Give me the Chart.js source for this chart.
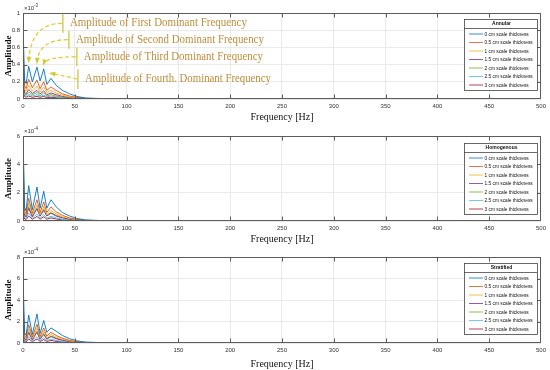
<!DOCTYPE html>
<html>
<head>
<meta charset="utf-8">
<script src="https://cdn.jsdelivr.net/npm/chart.js@4/dist/chart.umd.min.js"></script>
<style>
  html, body { margin: 0; padding: 0; background: #fff; }
  #wrap { position: relative; width: 550px; height: 370px; }
  canvas { position: absolute; left: 0; }
</style>
</head>
<body>
<div id="wrap">
  <canvas id="c1" width="550" height="123" style="top:0px"></canvas>
  <canvas id="c2" width="550" height="122" style="top:123px"></canvas>
  <canvas id="c3" width="550" height="125" style="top:245px"></canvas>
</div>
<script>
// DATA

// frequency points [Hz]
const freq = [0, 1.5, 3, 5.5, 9, 13.5, 16.5, 20, 23, 27, 32, 38, 45, 52, 60, 75, 100, 200, 500];

const seriesLabels = ['0 cm scale thickness', '0.5 cm scale thickness', '1 cm scale thickness',
  '1.5 cm scale thickness', '2 cm scale thickness', '2.5 cm scale thickness', '3 cm scale thickness'];

// amplitude x 10^-3 (annular)
const annularAmp = [
  [0.85, 0.22, 0.18, 0.38, 0.2, 0.37, 0.21, 0.35, 0.17, 0.24, 0.16, 0.1, 0.06, 0.03, 0.012, 0.005, 0.003, 0.002, 0.001],
  [0.62, 0.15, 0.12, 0.23, 0.13, 0.22, 0.12, 0.2, 0.1, 0.14, 0.1, 0.06, 0.035, 0.018, 0.008, 0.004, 0.002, 0.001, 0.001],
  [0.5, 0.11, 0.09, 0.16, 0.09, 0.15, 0.085, 0.14, 0.075, 0.1, 0.07, 0.045, 0.025, 0.012, 0.006, 0.003, 0.002, 0.001, 0.0005],
  [0.38, 0.08, 0.06, 0.11, 0.065, 0.1, 0.06, 0.095, 0.05, 0.07, 0.05, 0.03, 0.018, 0.009, 0.004, 0.002, 0.001, 0.0005, 0.0003],
  [0.3, 0.06, 0.045, 0.08, 0.05, 0.075, 0.04, 0.07, 0.035, 0.05, 0.035, 0.02, 0.012, 0.006, 0.003, 0.002, 0.001, 0.0005, 0.0003],
  [0.22, 0.045, 0.03, 0.055, 0.035, 0.05, 0.03, 0.045, 0.025, 0.035, 0.025, 0.015, 0.008, 0.004, 0.002, 0.001, 0.0005, 0.0003, 0.0002],
  [0.15, 0.03, 0.02, 0.035, 0.02, 0.03, 0.02, 0.03, 0.015, 0.02, 0.015, 0.01, 0.005, 0.003, 0.001, 0.0005, 0.0003, 0.0002, 0.0001]
];

// amplitude x 10^-4 (homogenous)
const homogAmp = [
  [6.0, 1.0, 0.7, 2.5, 0.8, 2.4, 0.9, 2.1, 0.9, 1.5, 1.0, 0.6, 0.35, 0.18, 0.08, 0.03, 0.015, 0.008, 0.004],
  [4.0, 0.7, 0.5, 1.6, 0.55, 1.5, 0.6, 1.35, 0.6, 1.0, 0.65, 0.4, 0.22, 0.11, 0.05, 0.02, 0.01, 0.005, 0.003],
  [3.0, 0.55, 0.4, 1.25, 0.45, 1.15, 0.45, 1.05, 0.45, 0.75, 0.5, 0.3, 0.17, 0.08, 0.04, 0.015, 0.008, 0.004, 0.002],
  [2.2, 0.4, 0.3, 0.9, 0.3, 0.85, 0.35, 0.75, 0.35, 0.55, 0.35, 0.22, 0.12, 0.06, 0.03, 0.01, 0.006, 0.003, 0.002],
  [5.8, 0.45, 0.3, 1.0, 0.35, 0.95, 0.35, 0.85, 0.4, 0.6, 0.4, 0.25, 0.14, 0.07, 0.03, 0.012, 0.006, 0.003, 0.002],
  [1.5, 0.25, 0.18, 0.55, 0.2, 0.5, 0.2, 0.45, 0.2, 0.33, 0.22, 0.13, 0.07, 0.035, 0.015, 0.006, 0.003, 0.002, 0.001],
  [1.0, 0.15, 0.1, 0.35, 0.12, 0.32, 0.13, 0.3, 0.13, 0.22, 0.14, 0.08, 0.05, 0.025, 0.01, 0.004, 0.002, 0.001, 0.001]
];

// amplitude x 10^-4 (stratified)
const stratAmp = [
  [6.3, 1.0, 0.7, 2.6, 0.8, 2.7, 0.9, 2.1, 1.0, 1.4, 1.1, 0.7, 0.4, 0.2, 0.09, 0.035, 0.015, 0.008, 0.004],
  [4.2, 0.7, 0.5, 1.7, 0.55, 1.75, 0.6, 1.4, 0.65, 1.0, 0.7, 0.45, 0.25, 0.12, 0.05, 0.02, 0.01, 0.005, 0.003],
  [3.2, 0.55, 0.4, 1.3, 0.45, 1.35, 0.5, 1.1, 0.5, 0.8, 0.55, 0.35, 0.19, 0.09, 0.04, 0.015, 0.008, 0.004, 0.002],
  [2.4, 0.4, 0.3, 0.95, 0.3, 1.0, 0.35, 0.8, 0.35, 0.6, 0.4, 0.25, 0.13, 0.065, 0.03, 0.012, 0.006, 0.003, 0.002],
  [3.0, 0.45, 0.3, 1.05, 0.35, 1.1, 0.4, 0.9, 0.4, 0.65, 0.45, 0.28, 0.15, 0.075, 0.035, 0.013, 0.006, 0.003, 0.002],
  [1.6, 0.25, 0.18, 0.6, 0.2, 0.6, 0.22, 0.5, 0.22, 0.36, 0.24, 0.15, 0.08, 0.04, 0.017, 0.007, 0.003, 0.002, 0.001],
  [1.1, 0.15, 0.1, 0.38, 0.12, 0.38, 0.14, 0.32, 0.14, 0.24, 0.15, 0.09, 0.05, 0.027, 0.011, 0.004, 0.002, 0.001, 0.001]
];

// the four dominant peaks pointed at in the first plot [Hz, amp]
const peakFreq = [5.5, 13.5, 20, 27];
const peakAmp = [0.38, 0.37, 0.35, 0.24];
const peakNotes = ['Amplitude of First Dominant Frequency', 'Amplitude of Second Dominant Frequency',
  'Amplitude of Third Dominant Frequency', 'Amplitude of Fourth. Dominant Frequency'];

const lineColors = ['#0072BD', '#D95319', '#EDB120', '#7E2F8E', '#77AC30', '#4DBEEE', '#A2142F'];

// PLUGINS

// box round the axes + inward ticks like matlab
const boxPlugin = {
  id: 'boxAxes',
  afterDatasetsDraw(chart) {
    const {ctx, chartArea: a, scales} = chart;
    const L = Math.round(a.left) + 0.5, R = Math.round(a.right) - 0.5;
    const T = Math.round(a.top) + 0.5, B = Math.round(a.bottom) - 0.5;
    ctx.save();
    ctx.strokeStyle = '#5c5c5c';
    ctx.lineWidth = 1;
    ctx.strokeRect(L, T, R - L, B - T);
    ctx.beginPath();
    scales.x.ticks.forEach(t => {
      if (t.value <= scales.x.min || t.value >= scales.x.max) return;
      const px = Math.round(scales.x.getPixelForValue(t.value)) + 0.5;
      ctx.moveTo(px, B); ctx.lineTo(px, B - 4);
      ctx.moveTo(px, T); ctx.lineTo(px, T + 4);
    });
    scales.y.ticks.forEach(t => {
      if (t.value <= scales.y.min || t.value >= scales.y.max) return;
      const py = Math.round(scales.y.getPixelForValue(t.value)) + 0.5;
      ctx.moveTo(L, py); ctx.lineTo(L + 4, py);
      ctx.moveTo(R, py); ctx.lineTo(R - 4, py);
    });
    ctx.stroke();
    // x10^n label
    const exp = chart.options.plugins.boxAxes.exp;
    ctx.fillStyle = '#333';
    ctx.font = '6px "Liberation Sans"';
    ctx.textBaseline = 'alphabetic';
    ctx.fillText('\u00d710', a.left + 1, a.top - 3);
    ctx.font = '4.5px "Liberation Sans"';
    ctx.fillText(exp, a.left + 11, a.top - 6);
    ctx.restore();
  }
};

// legend box with title, top right inside axes
const legendBoxPlugin = {
  id: 'legendBox',
  afterDraw(chart) {
    const {ctx, chartArea: a} = chart;
    const o = chart.options.plugins.legendBox;
    const w = 73, h = 71;
    const x0 = Math.round(a.right - 4 - w), y0 = Math.round(a.top + o.dy);
    ctx.save();
    ctx.fillStyle = '#fff';
    ctx.fillRect(x0, y0, w, h);
    ctx.strokeStyle = '#444';
    ctx.lineWidth = 0.8;
    ctx.strokeRect(x0 + 0.5, y0 + 0.5, w, h);
    ctx.beginPath();
    ctx.moveTo(x0, y0 + 9.5); ctx.lineTo(x0 + w, y0 + 9.5);
    ctx.stroke();
    ctx.fillStyle = '#111';
    ctx.font = 'bold 5px "Liberation Sans"';
    ctx.textAlign = 'center';
    ctx.textBaseline = 'middle';
    ctx.fillText(o.title, x0 + w / 2 + 1, y0 + 5);
    ctx.textAlign = 'left';
    ctx.font = '4.8px "Liberation Sans"';
    chart.data.datasets.forEach((ds, i) => {
      const yy = y0 + 15 + i * 8.5;
      ctx.strokeStyle = ds.borderColor;
      ctx.lineWidth = 0.8;
      ctx.beginPath();
      ctx.moveTo(x0 + 5, yy); ctx.lineTo(x0 + 19, yy);
      ctx.stroke();
      ctx.fillText(ds.label, x0 + 20.5, yy + 0.3);
    });
    ctx.restore();
  }
};

// yellow dashed arrows + notes for the dominant peaks
const peakNotePlugin = {
  id: 'peakNotes',
  afterDraw(chart) {
    const {ctx} = chart;
    const xs = chart.scales.x, ys = chart.scales.y;
    const X = v => xs.getPixelForValue(v), Y = v => ys.getPixelForValue(v);
    // anchor of each note, in data units
    const noteHz = [38.5, 44.3, 52, 53];
    const noteAmp = [0.88, 0.69, 0.49, 0.23];
    const barHalf = [0.11, 0.105, 0.11, 0.115];
    const textW = [177, 188, 179, 186];
    ctx.save();
    for (let i = 0; i < 4; i++) {
      const sx = X(noteHz[i]), sy = Y(noteAmp[i]);
      const ex = X(peakFreq[i]), ey = Y(peakAmp[i]) - 2;
      // vertical bar
      ctx.setLineDash([]);
      ctx.strokeStyle = '#c9c234';
      ctx.lineWidth = 1.2;
      ctx.beginPath();
      ctx.moveTo(sx, Y(noteAmp[i] + barHalf[i]));
      ctx.lineTo(sx, Y(noteAmp[i] - barHalf[i]));
      ctx.stroke();
      // dashed curve
      ctx.strokeStyle = '#dccd3a';
      ctx.lineWidth = 1.3;
      ctx.setLineDash([4, 2.5]);
      ctx.beginPath();
      ctx.moveTo(sx - 1, sy);
      let cx, cy;
      if (i < 3) { cx = ex + 2; cy = sy; } else { cx = (sx + ex) / 2 + 2; cy = sy - 3; }
      ctx.quadraticCurveTo(cx, cy, ex, ey - 3);
      ctx.stroke();
      // arrow head
      ctx.setLineDash([]);
      ctx.fillStyle = '#d8c833';
      const ang = Math.atan2(ey - 3 - cy, ex - cx);
      ctx.beginPath();
      ctx.moveTo(ex + Math.cos(ang) * 2, ey - 3 + Math.sin(ang) * 2);
      ctx.lineTo(ex - Math.cos(ang - 0.5) * 5, ey - 3 - Math.sin(ang - 0.5) * 5);
      ctx.lineTo(ex - Math.cos(ang + 0.5) * 5, ey - 3 - Math.sin(ang + 0.5) * 5);
      ctx.closePath();
      ctx.fill();
      // note text, squeezed to the width seen in the figure
      ctx.font = '11.5px "Liberation Serif"';
      ctx.fillStyle = '#be8d3a';
      ctx.textBaseline = 'middle';
      const tw = ctx.measureText(peakNotes[i]).width;
      ctx.save();
      ctx.translate(sx + 7, sy);
      ctx.scale(textW[i] / tw, 1);
      ctx.fillText(peakNotes[i], 0, 0);
      ctx.restore();
    }
    ctx.restore();
  }
};

// BUILD CHARTS

function makeDatasets(rows) {
  return rows.map((row, i) => ({
    label: seriesLabels[i],
    data: row.map((v, k) => ({x: freq[k], y: v})),
    borderColor: lineColors[i],
    borderWidth: 0.9,
    pointRadius: 0,
    pointHoverRadius: 0,
    tension: 0,
    fill: false
  }));
}

function makeChart(id, rows, yMax, yStep, exp, title, padTop, xAxisH, legendDy, extra) {
  return new Chart(document.getElementById(id), {
    type: 'line',
    data: { datasets: makeDatasets(rows) },
    options: {
      responsive: false,
      animation: false,
      devicePixelRatio: 1,
      layout: { padding: { top: padTop, right: 8, left: 0, bottom: 0 } },
      plugins: {
        legend: { display: false },
        tooltip: { enabled: false },
        boxAxes: { exp: exp },
        legendBox: { title: title, dy: legendDy }
      },
      scales: {
        x: {
          type: 'linear', min: 0, max: 500,
          ticks: { stepSize: 50, maxRotation: 0, padding: 4, color: '#333', font: { family: 'Liberation Sans', size: 6 } },
          grid: { color: '#e4e4e4', lineWidth: 0.8, drawTicks: false },
          border: { display: false },
          title: { display: true, text: 'Frequency [Hz]', color: '#111', padding: 0,
                   font: { family: 'Liberation Serif', size: 10 } },
          afterFit(s) { s.height = xAxisH; }
        },
        y: {
          min: 0, max: yMax,
          ticks: { stepSize: yStep, padding: 3, color: '#333', font: { family: 'Liberation Sans', size: 6 },
                   callback: v => String(+v.toFixed(1)) },
          grid: { color: '#e4e4e4', lineWidth: 0.8, drawTicks: false },
          border: { display: false },
          title: { display: true, text: 'Amplitude', color: '#111', padding: { top: 3, bottom: 0 },
                   font: { family: 'Liberation Serif', size: 9, weight: 'bold' } },
          afterFit(s) { s.width = 23; }
        }
      }
    },
    plugins: [boxPlugin, legendBoxPlugin].concat(extra || [])
  });
}

makeChart('c1', annularAmp, 1, 0.2, '-3', 'Annular', 13, 24, 6, [peakNotePlugin]);
makeChart('c2', homogAmp, 6, 2, '-4', 'Homogenous', 13, 24, 7);
makeChart('c3', stratAmp, 8, 2, '-4', 'Stratified', 12, 27, 6);
</script>
</body>
</html>
